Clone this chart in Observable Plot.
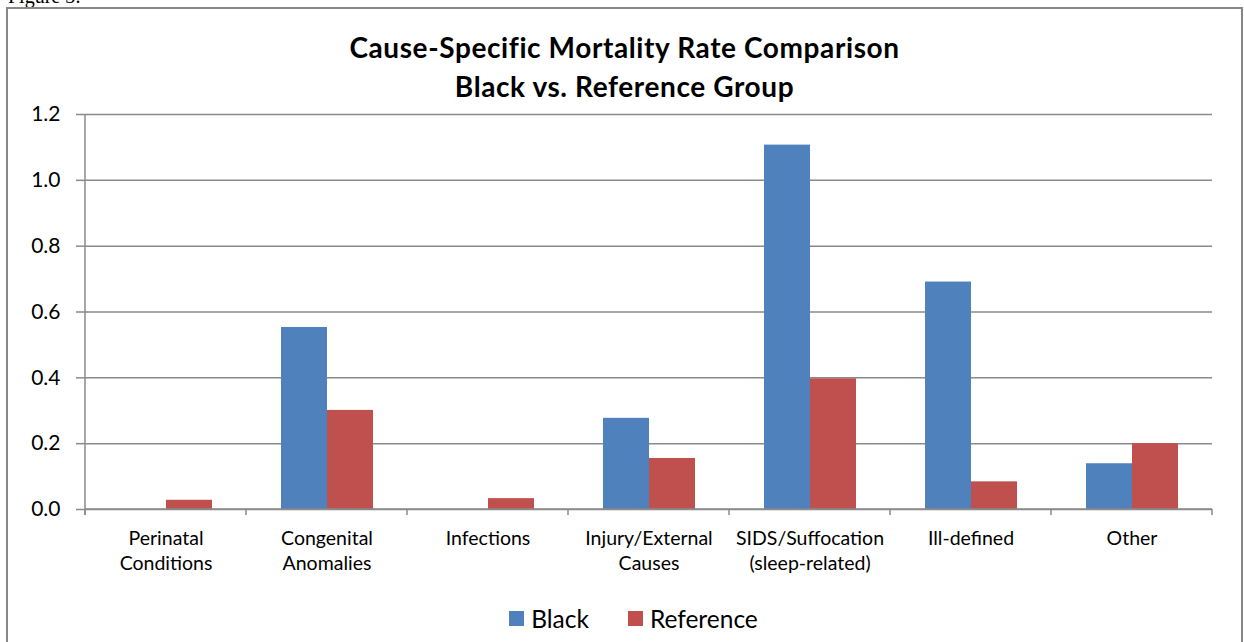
<!DOCTYPE html>
<html><head><meta charset="utf-8">
<script src="https://cdn.jsdelivr.net/npm/d3@7"></script>
<script src="https://cdn.jsdelivr.net/npm/@observablehq/plot@0.6"></script>
<style>
body{margin:0;background:#fff;font-family:Lato,"Open Sans",sans-serif;overflow:hidden;}
#fig{position:absolute;left:8px;top:-15px;font-family:"Liberation Serif",serif;font-size:20px;color:#000;}
#box{position:absolute;left:6px;top:7px;width:1237px;height:700px;border:2px solid #888;box-sizing:border-box;background:#fff;}
#title{position:absolute;left:0;top:19px;width:1233px;text-align:center;font-weight:bold;font-size:28px;letter-spacing:0.6px;line-height:39px;color:#000;}
#chart{position:absolute;left:0;top:91px;}
#legend{position:absolute;left:9px;top:595px;width:1233px;display:flex;justify-content:center;gap:39px;font-size:24.5px;color:#000;}
#legend span{display:inline-flex;align-items:center;}
#legend i{display:inline-block;width:15px;height:15px;margin-right:7px;}
</style></head>
<body>
<div id="fig">Figure 3:</div>
<div id="box">
  <div id="title">Cause-Specific Mortality Rate Comparison<br>Black vs. Reference Group</div>
  <div id="chart"></div>
  <div id="legend"></div>
</div>
<script>
const categories = ["Perinatal Conditions", "Congenital Anomalies", "Infections", "Injury/External Causes", "SIDS/Suffocation (sleep-related)", "Ill-defined", "Other"];
const categoryLabels = ["Perinatal\nConditions", "Congenital\nAnomalies", "Infections", "Injury/External\nCauses", "SIDS/Suffocation\n(sleep-related)", "Ill-defined", "Other"];
const series = ["Black", "Reference"];
const blackValues = [null, 0.553, null, 0.277, 1.107, 0.691, 0.139];
const referenceValues = [0.028, 0.301, 0.033, 0.155, 0.397, 0.084, 0.200];
const yTicks = [0, 0.2, 0.4, 0.6, 0.8, 1.0, 1.2];
const colors = ["#4F81BD", "#C0504D"];

const data = [];
categories.forEach((c, i) => {
  if (blackValues[i] != null) data.push({category: c, series: "Black", value: blackValues[i]});
  if (referenceValues[i] != null) data.push({category: c, series: "Reference", value: referenceValues[i]});
});
const labelOf = new Map(categories.map((c, i) => [c, categoryLabels[i]]));

const gridColor = "#8a8a8a";
const plot = Plot.plot({
  width: 1233,
  height: 484,
  marginLeft: 75,
  marginRight: 28,
  marginTop: 14,
  marginBottom: 75,
  style: {fontFamily: "Lato, 'Open Sans', sans-serif", background: "transparent", overflow: "visible"},
  fx: {domain: categories, padding: 0, label: null},
  x: {domain: series, paddingInner: 0, paddingOuter: 0.73, axis: null},
  y: {domain: [0, 1.2], label: null},
  color: {domain: series, range: colors},
  marks: [
    Plot.gridY(yTicks, {stroke: gridColor, strokeOpacity: 1, strokeWidth: 1.5}),
    Plot.axisY(yTicks, {tickFormat: d3.format(".1f"), tickSize: 9, tickPadding: 16, fontSize: 21, stroke: gridColor, strokeWidth: 1.5, strokeOpacity: 1, label: null, color: "#000"}),
    Plot.axisFx({anchor: "bottom", tickSize: 0, tickPadding: 17, fontSize: 19.5, lineHeight: 1.3, tickFormat: d => labelOf.get(d), label: null, color: "#000"}),
    Plot.barY(data, {fx: "category", x: "series", y: "value", fill: "series"})
  ]
});
document.getElementById("chart").appendChild(plot);

// axis lines and category boundary ticks from the plot's own scales
const fx = plot.scale("fx");
const y = plot.scale("y");
const y0 = y.apply(0);
const yTop = y.apply(1.2);
const left = fx.apply(categories[0]);
const bounds = categories.map(c => fx.apply(c)).concat([fx.apply(categories[categories.length - 1]) + fx.step]);
const g = d3.select(plot).append("g").attr("stroke", gridColor).attr("stroke-width", 1.5);
g.append("line").attr("x1", left).attr("x2", left).attr("y1", yTop).attr("y2", y0 + 6);
g.append("line").attr("x1", left).attr("x2", bounds[bounds.length - 1]).attr("y1", y0).attr("y2", y0);
bounds.forEach(b => g.append("line").attr("x1", b).attr("x2", b).attr("y1", y0).attr("y2", y0 + 6));

const legend = document.getElementById("legend");
series.forEach((s, i) => {
  const span = document.createElement("span");
  span.innerHTML = `<i style="background:${colors[i]}"></i>${s}`;
  legend.appendChild(span);
});
</script>
</body></html>
